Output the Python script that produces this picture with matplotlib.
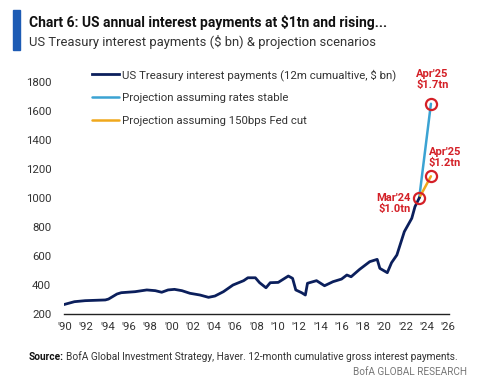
import matplotlib
matplotlib.use("Agg")
import matplotlib.pyplot as plt
from matplotlib.patches import Rectangle

plt.rcParams['font.family'] = ['Roboto', 'DejaVu Sans']

# US Treasury interest payments, 12m cumulative ($ bn), decimal years
dates = [1990.9, 1991.8, 1992.8, 1994.7, 1995.0, 1995.8, 1996.2, 1997.5, 1998.6, 1999.4,
         2000.0, 2000.6, 2001.2, 2001.9, 2002.65, 2003.6, 2004.4, 2005.0, 2005.8, 2006.7,
         2007.7, 2008.1, 2008.8, 2009.2, 2009.8, 2010.2, 2010.95, 2011.9, 2012.3, 2012.6,
         2013.15, 2013.5, 2013.7, 2014.55, 2015.3, 2016.1, 2016.9, 2017.4, 2017.8, 2018.6,
         2019.55, 2020.25, 2020.5, 2021.2, 2021.6, 2022.1, 2022.8, 2023.5, 2023.8, 2024.2]
payments = [267, 285, 292, 297, 303, 338, 347, 354, 366, 361,
            350, 366, 370, 361, 343, 331, 315, 324, 354, 400,
            430, 450, 450, 416, 381, 416, 418, 462, 446, 366,
            347, 331, 412, 430, 395, 423, 441, 469, 457, 508,
            561, 577, 515, 485, 554, 607, 768, 860, 940, 1000]

# projections from Mar'24 to Apr'25
proj_dates = [2024.2, 2025.3]
proj_stable = [1000, 1650]
proj_cut = [1000, 1150]

years = list(range(1990, 2027, 2))
year_labels = ["'%02d" % (y % 100) for y in years]

navy = '#0b1f5c'
sky = '#3ba3d3'
amber = '#f0a81c'
red = '#d42027'

fig = plt.figure(figsize=(4.87, 3.86), dpi=100)
ax = fig.add_axes([0.131, 0.1865, 0.791, 0.601])

ax.plot(proj_dates, proj_stable, color=sky, lw=1.8, solid_capstyle='round',
        label='Projection assuming rates stable')
ax.plot(proj_dates, proj_cut, color=amber, lw=1.8, solid_capstyle='round',
        label='Projection assuming 150bps Fed cut')
ax.plot(dates, payments, color=navy, lw=2.0, zorder=3,
        label='US Treasury interest payments (12m cumualtive, $ bn)')

# red circle highlights
ax.plot([proj_dates[0]], [proj_stable[0]], 'o', ms=8, mfc='none', mec=red, mew=1.6, zorder=4)
ax.plot([proj_dates[1]], [proj_stable[1]], 'o', ms=8, mfc='none', mec=red, mew=1.6, zorder=4)
ax.plot([proj_dates[1]], [proj_cut[1]], 'o', ms=8, mfc='none', mec=red, mew=1.6, zorder=4)

ax.annotate("Apr'25\n$1.7tn", (proj_dates[1], proj_stable[1]), xytext=(1, 10),
            textcoords='offset points', ha='center', va='bottom', color=red,
            fontsize=8, fontweight='bold', linespacing=1.05, annotation_clip=False)
ax.annotate("Apr'25\n$1.2tn", (proj_dates[1], proj_cut[1]), xytext=(10, 6),
            textcoords='offset points', ha='center', va='bottom', color=red,
            fontsize=8, fontweight='bold', linespacing=1.05, annotation_clip=False)
ax.annotate("Mar'24\n$1.0tn", (proj_dates[0], proj_stable[0]), xytext=(-6, -4),
            textcoords='offset points', ha='right', va='center', color=red,
            fontsize=8, fontweight='bold', linespacing=1.05, annotation_clip=False)

ax.set_xlim(1990.8, 2027.0)
ax.set_ylim(200, 1800)
ax.set_yticks(range(200, 1801, 200))
ax.set_xticks([y + 0.9 for y in years])
ax.set_xticklabels(year_labels)
ax.tick_params(axis='both', length=0, labelsize=8.2, colors='#333333')
ax.tick_params(axis='x', pad=6)
ax.tick_params(axis='y', pad=9)
for s in ['top', 'right', 'left']:
    ax.spines[s].set_visible(False)
ax.spines['bottom'].set_color('#222222')
ax.spines['bottom'].set_linewidth(1.0)

handles, labels = ax.get_legend_handles_labels()
order = [2, 0, 1]
leg = fig.legend([handles[i] for i in order], [labels[i] for i in order],
                 loc='upper left', bbox_to_anchor=(92 / 487, 1 - 69 / 386),
                 frameon=False, fontsize=8.2, handlelength=2.4, handletextpad=0.2,
                 labelspacing=1.1, borderpad=0, borderaxespad=0)
for t in leg.get_texts():
    t.set_color('#333333')

# header
fig.patches.append(Rectangle((13 / 487, 1 - 50 / 386), 7 / 487, 40 / 386,
                             transform=fig.transFigure, color='#1d5bb4'))
fig.text(29 / 487, 1 - 22 / 386, 'Chart 6: US annual interest payments at $1tn and rising...',
         fontsize=10, fontweight='bold', va='center', ha='left', color='#111111')
fig.text(29 / 487, 1 - 42 / 386, 'US Treasury interest payments ($ bn) & projection scenarios',
         fontsize=9.4, va='center', ha='left', color='#333333')

# footer
src = fig.text(29 / 487, 1 - 357 / 386, 'Source:', fontsize=7.3, fontweight='bold',
               va='center', ha='left', color='#111111')
fig.canvas.draw()
bb = src.get_window_extent()
fig.text(bb.x1 / fig.bbox.width + 2 / 487, 1 - 357 / 386,
         'BofA Global Investment Strategy, Haver. 12-month cumulative gross interest payments.',
         fontsize=7.3, va='center', ha='left', color='#333333')
fig.text(467 / 487, 1 - 372 / 386, 'BofA GLOBAL RESEARCH', fontsize=7.2,
         va='center', ha='right', color='#777777')

fig.savefig('out.png', dpi=100)
